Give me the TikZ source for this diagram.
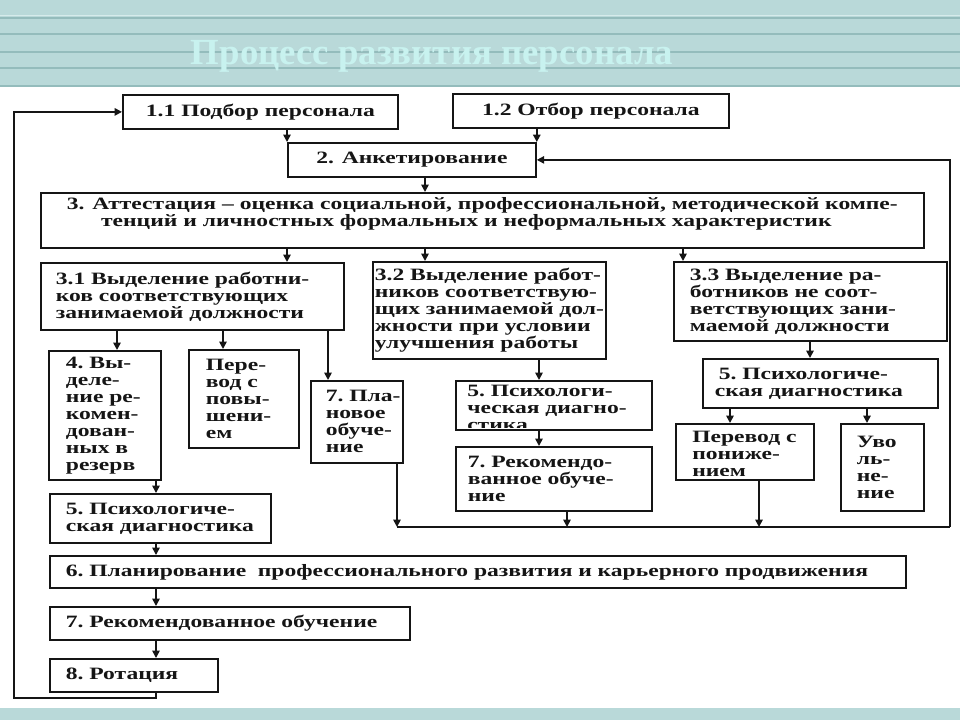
\documentclass[tikz,border=0pt]{standalone}
\usepackage{fontspec}
\setmainfont{Liberation Serif}
\newfontfamily\dfont[FakeStretch=1.36]{Liberation Serif Bold}
\newfontfamily\tfont{Liberation Serif Bold}
\usetikzlibrary{arrows.meta,calc}
\exhyphenpenalty=10000
\hyphenpenalty=10000
\definecolor{band}{HTML}{B9D9D9}
\definecolor{bandline}{HTML}{94BCBC}
\definecolor{bandlight}{HTML}{D6EBEB}
\definecolor{ttl}{HTML}{C8F2EF}
\definecolor{ink}{HTML}{151515}
\tikzset{
  box/.style={draw=ink, line width=1.35pt, rectangle, inner ysep=0pt, text=ink,
    font={\dfont\fontsize{13}{12.75}\selectfont}},
  lbox/.style={box, align=left},
  cbox/.style={box, align=center},
  txt/.style={text=ink, inner sep=0pt, align=left,
    font={\dfont\fontsize{13}{12.75}\selectfont}},
  arr/.style={draw=ink, line width=1.25pt, -{Triangle[length=5.5pt,width=5.5pt]}},
  ln/.style={draw=ink, line width=1.25pt},
  bandln/.style={draw=bandline, line width=1.1pt},
}
% left-aligned box: [opts]{name}{x1}{y1}{x2}{y2}{inset}{text}
\newcommand{\lbx}[8][]{%
  \pgfmathsetlengthmacro\bxw{(#5-#3)*0.75pt}%
  \pgfmathsetlengthmacro\bxh{(#6-#4)*0.75pt}%
  \pgfmathsetlengthmacro\bxi{#7*0.75pt}%
  \pgfmathsetlengthmacro\bxt{(#5-#3-2*#7)*0.75pt}%
  \node[lbox,anchor=north west,minimum width=\bxw,minimum height=\bxh,
    inner xsep=\bxi,text width=\bxt,#1] (#2) at (#3,#4) {#8};}
% centred box: [opts]{name}{x1}{y1}{x2}{y2}{text}
\newcommand{\cbx}[7][]{%
  \pgfmathsetlengthmacro\bxw{(#5-#3)*0.75pt}%
  \pgfmathsetlengthmacro\bxh{(#6-#4)*0.75pt}%
  \node[cbox,anchor=north west,minimum width=\bxw,minimum height=\bxh,
    inner xsep=0pt,#1] (#2) at (#3,#4) {#7};}
\begin{document}
\begin{tikzpicture}[x=0.75pt,y=-0.75pt]
\useasboundingbox (0,0) rectangle (960,720);
% background
\fill[white] (0,0) rectangle (960,720);
\fill[band] (0,0) rectangle (960,87);
\fill[band] (0,708) rectangle (960,720);
\draw[draw=bandlight, line width=1pt] (0,15.5) -- (960,15.5);
\draw[bandln] (0,18) -- (960,18);
\draw[bandln] (0,34) -- (960,34);
\draw[bandln] (0,52) -- (960,52);
\draw[bandln] (0,68) -- (960,68);
\draw[bandln] (0,86) -- (960,86);
\node[font={\tfont\fontsize{27.6}{30}\selectfont}, text=ttl, anchor=base, inner sep=0pt]
  (title) at (432,65) {Процесс развития персонала};

% top boxes
\cbx{b11}{122}{94}{397}{128}{1.1 Подбор персонала}
\cbx{b12}{452}{93}{728}{127}{1.2 Отбор персонала}
\cbx{b2}{287}{142}{535}{176}{2. Анкетирование}
\cbx[text depth=13pt]{b3}{40}{192}{923}{247}{3. Аттестация – оценка социальной, профессиональной, методической компе-\\тенций и личностных формальных и неформальных характеристик\rule{24pt}{0pt}}

% second level
\lbx{b31}{40}{262}{343}{329}{15}{3.1~Выделение~работни-\\ков~соответствующих\\занимаемой~должности}
\lbx{b32}{372}{261}{605}{358}{2}{3.2~Выделение~работ-\\ников~соответствую-\\щих~занимаемой~дол-\\жности~при~условии\\улучшения~работы}
\lbx{b33}{673}{261}{946}{340}{16}{3.3~Выделение~ра-\\ботников~не~соот-\\ветствующих~зани-\\маемой~должности}

% under 3.1
\lbx{b4}{48}{350}{160}{479}{17}{4.~Вы-\\деле-\\ние~ре-\\комен-\\дован-\\ных~в\\резерв}
\lbx{bpv}{188}{349}{298}{447}{17}{Пере-\\вод~с\\повы-\\шени-\\ем}
\lbx{b7p}{310}{380}{402}{462}{15}{7.~Пла-\\новое\\обуче-\\ние}

% under 3.2
\begin{scope}
  \clip (455,380) rectangle (651,427);
  \node[txt,anchor=north west] (t5m) at (467,385) {5.~Психологи-\\ческая~диагно-\\стика};
\end{scope}
\cbx{b5m}{455}{380}{651}{429}{}
\lbx{b7r}{455}{446}{651}{510}{12}{7.~Рекомендо-\\ванное~обуче-\\ние}

% under 3.3
\lbx{b5r}{702}{358}{937}{407}{12}{\hspace*{3pt}5.~Психологиче-\\ская~диагностика}
\begin{scope}
  \clip (675,423) rectangle (813,475);
  \node[txt,anchor=north west] (tpn) at (692,431) {Перевод~с\\пониже-\\нием};
\end{scope}
\cbx{bpn}{675}{423}{813}{479}{}
\lbx{buv}{840}{423}{923}{510}{16}{Уво\\ль-\\не-\\ние}

% left column
\lbx{b5l}{49}{493}{270}{542}{16}{5.~Психологиче-\\ская~диагностика}
\lbx{b6}{49}{555}{905}{587}{16}{6.~Планирование~~профессионального~развития~и~карьерного~продвижения}
\lbx{b7l}{49}{606}{409}{639}{16}{7.~Рекомендованное~обучение}
\lbx{b8}{49}{658}{217}{691}{16}{8.~Ротация}

% helper coordinates
\coordinate (x425) at (425,0);
\coordinate (x683) at (683,0);
\coordinate (x117) at (117,0);
\coordinate (x223) at (223,0);
\coordinate (x328) at (328,0);
\coordinate (x539) at (539,0);
\coordinate (x567) at (567,0);
\coordinate (x730) at (730,0);
\coordinate (x759) at (759,0);
\coordinate (x810) at (810,0);
\coordinate (x867) at (867,0);
\coordinate (x156) at (156,0);
\coordinate (cl) at (397,527);
\coordinate (cr) at (950,527);
\coordinate (lp1) at (156,698);
\coordinate (lp2) at (14,698);

% connectors, top
\draw[arr] (b11.south -| b2.west) -- (b2.north west);
\draw[arr] (b12.south -| b2.east) -- (b2.north east);
\draw[arr] (b2.south -| x425) -- (b3.north -| x425);
\draw[arr] (b3.south -| b2.west) -- (b31.north -| b2.west);
\draw[arr] (b3.south -| x425) -- (b32.north -| x425);
\draw[arr] (b3.south -| x683) -- (b33.north -| x683);
% under 3.1
\draw[arr] (b31.south -| x117) -- (b4.north -| x117);
\draw[arr] (b31.south -| x223) -- (bpv.north -| x223);
\draw[arr] (b31.south -| x328) -- (b7p.north -| x328);
% under 3.2
\draw[arr] (b32.south -| x539) -- (b5m.north -| x539);
\draw[arr] (b5m.south -| x539) -- (b7r.north -| x539);
% under 3.3
\draw[arr] (b33.south -| x810) -- (b5r.north -| x810);
\draw[arr] (b5r.south -| x730) -- (bpn.north -| x730);
\draw[arr] (b5r.south -| x867) -- (buv.north -| x867);
% collecting line and feedback
\draw[arr] (b7p.south -| cl) -- (cl);
\draw[arr] (b7r.south -| x567) -- (cl -| x567);
\draw[arr] (bpn.south -| x759) -- (cl -| x759);
\draw[ln] (cl) -- (cr);
\draw[arr] (cr) |- (b2.east);
% left column
\draw[arr] (b4.south -| x156) -- (b5l.north -| x156);
\draw[arr] (b5l.south -| x156) -- (b6.north -| x156);
\draw[arr] (b6.south -| x156) -- (b7l.north -| x156);
\draw[arr] (b7l.south -| x156) -- (b8.north -| x156);
\draw[arr] (b8.south -| lp1) -- (lp1) -- (lp2) |- (b11.west);
\end{tikzpicture}
\end{document}
